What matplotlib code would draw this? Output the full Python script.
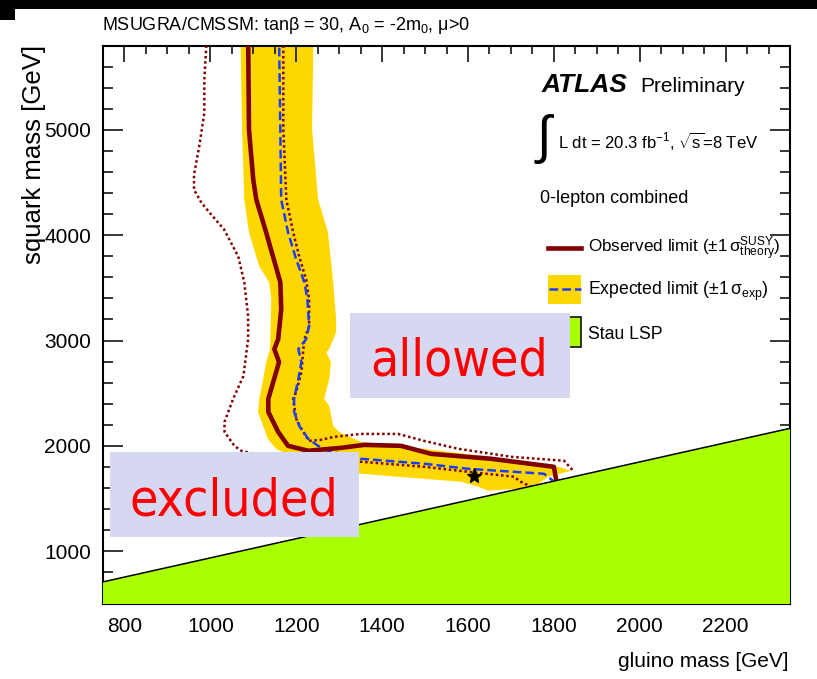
import matplotlib
matplotlib.use("Agg")
import matplotlib.pyplot as plt
from matplotlib import font_manager
from matplotlib.lines import Line2D
from matplotlib.patches import Rectangle, Polygon
from matplotlib.ticker import MultipleLocator

# ------------------------- Données des contours (GeV) --------------------------

# limite observée
obs_gluino = [1088, 1090, 1100, 1107, 1130, 1163, 1165, 1158, 1149, 1160, 1135, 1135,
              1158, 1181, 1228, 1305, 1358, 1444, 1514, 1654, 1800, 1805]
obs_squark = [5900, 5000, 4527, 4338, 4026, 3553, 3297, 3013, 2919, 2796, 2446, 2323,
              2133, 2001, 1954, 1982, 2010, 2001, 1925, 1878, 1802, 1689]

# limite attendue
exp_gluino = [1160, 1163, 1165, 1181, 1200, 1219, 1226, 1230, 1223, 1205, 1212, 1205,
              1195, 1195, 1207, 1228, 1251, 1274, 1351, 1498, 1600, 1777, 1798]
exp_squark = [5900, 5000, 4338, 4026, 3770, 3553, 3392, 3136, 3013, 2919, 2796, 2635,
              2446, 2323, 2190, 2067, 2001, 1954, 1878, 1831, 1783, 1736, 1670]

# bande +-1 sigma exp : bord haut/droit puis bord bas/gauche
band_hi_gluino = [1240, 1237, 1251, 1274, 1286, 1293, 1293, 1277, 1270, 1281, 1277, 1265,
                  1277, 1286, 1300, 1335, 1351, 1461, 1631, 1810, 1840]
band_hi_squark = [5900, 5000, 4338, 4026, 3553, 3202, 3079, 2919, 2890, 2796, 2635, 2446,
                  2379, 2190, 2133, 2067, 2039, 1991, 1906, 1802, 1764]
band_lo_gluino = [1070, 1074, 1079, 1090, 1114, 1137, 1142, 1139, 1130, 1123, 1114, 1111,
                  1123, 1134, 1153, 1211, 1281, 1351, 1584, 1624, 1647, 1717, 1764, 1787]
band_lo_squark = [5900, 5000, 4338, 4026, 3704, 3553, 3392, 2919, 2796, 2635, 2446, 2323,
                  2190, 2067, 1973, 1859, 1783, 1736, 1660, 1613, 1575, 1594, 1641, 1708]

# observée +-1 sigma théorie
up_gluino = [1170, 1170, 1177, 1193, 1207, 1223, 1230, 1230, 1219, 1216, 1212, 1200, 1193,
             1200, 1212, 1230, 1258, 1288, 1351, 1437, 1498, 1577, 1701, 1824, 1845]
up_squark = [5900, 5000, 4338, 4026, 3798, 3581, 3392, 3136, 3013, 2890, 2701, 2512, 2446,
             2256, 2162, 2048, 2058, 2086, 2114, 2114, 2048, 1973, 1897, 1859, 1764]
dn_gluino = [992, 986, 986, 974, 962, 962, 979, 1002, 1032, 1065, 1079, 1088, 1088, 1077,
             1053, 1033, 1033, 1056, 1072, 1150, 1250, 1351, 1498, 1600, 1707, 1723, 1747]
dn_squark = [5900, 5473, 5161, 4839, 4574, 4432, 4309, 4196, 4054, 3798, 3553, 3231, 3013,
             2663, 2446, 2228, 2133, 2001, 1954, 1880, 1860, 1850, 1802, 1755, 1708, 1660, 1613]

# frontière stau LSP
stau_gluino = [750, 2350]
stau_squark = [710, 2167]

# point de référence (étoile)
star_gluino = [1615]
star_squark = [1717]

# ------------------------- Style --------------------------

W, H = 817, 679
col_obs = "#800000"
col_band = "#ffd700"
col_exp = "#1a3cff"
col_stau = "#aaff00"
col_box = "#d6d7f1"

plt.rcParams["font.family"] = ["Liberation Sans", "DejaVu Sans"]
plt.rcParams["mathtext.fontset"] = "custom"
plt.rcParams["mathtext.rm"] = "Liberation Sans"
plt.rcParams["mathtext.it"] = "Liberation Sans:italic"
plt.rcParams["mathtext.bf"] = "Liberation Sans:bold"

noms = {f.name for f in font_manager.fontManager.ttflist}
if "Liberation Sans Narrow" in noms:
    leg_font, leg_size = ["Liberation Sans Narrow", "DejaVu Sans"], 15
else:
    leg_font, leg_size = ["Liberation Sans", "DejaVu Sans"], 12.3


def fx(px):
    return px / W


def fy(py):
    return 1 - py / H


fig = plt.figure(figsize=(W / 100, H / 100), dpi=100)
ax = fig.add_axes([fx(103), fy(604), (790 - 103) / W, (604 - 45.5) / H])

# ------------------------- Tracé --------------------------

band_x = band_hi_gluino + band_lo_gluino[::-1]
band_y = band_hi_squark + band_lo_squark[::-1]
ax.add_patch(Polygon(list(zip(band_x, band_y)), closed=True, facecolor=col_band,
                     edgecolor="none", zorder=1))

ax.plot(up_gluino, up_squark, color=col_obs, lw=1.8, dashes=(1, 1.1), zorder=3)
ax.plot(dn_gluino, dn_squark, color=col_obs, lw=1.8, dashes=(1, 1.1), zorder=3)
ax.plot(exp_gluino, exp_squark, color=col_exp, lw=1.8, dashes=(3.5, 1.6), zorder=4)
ax.plot(obs_gluino, obs_squark, color=col_obs, lw=3.3, zorder=5)

stau_poly = [(stau_gluino[0], stau_squark[0]), (stau_gluino[1], stau_squark[1]),
             (stau_gluino[1], 0), (stau_gluino[0], 0)]
ax.add_patch(Polygon(stau_poly, closed=True, facecolor=col_stau, edgecolor="none", zorder=6))
ax.plot(stau_gluino, stau_squark, color="black", lw=1.1, zorder=7)

ax.plot(star_gluino, star_squark, marker="*", color="black", markersize=11, ls="none", zorder=8)

ax.set_xlim(750, 2350)
ax.set_ylim(500, 5800)

ax.set_xticks(range(800, 2300, 200))
ax.set_yticks(range(1000, 6000, 1000))
ax.xaxis.set_minor_locator(MultipleLocator(50))
ax.yaxis.set_minor_locator(MultipleLocator(200))
ax.tick_params(which="both", direction="in", top=True, right=True, width=1.1,
               labelsize=15, colors="black")
ax.xaxis.set_tick_params(which="major", length=11.5, pad=9)
ax.xaxis.set_tick_params(which="minor", length=5.8)
ax.yaxis.set_tick_params(which="major", length=14.4, pad=8.5)
ax.yaxis.set_tick_params(which="minor", length=7.2)
for s in ax.spines.values():
    s.set_linewidth(1.5)

# ------------------------- Textes --------------------------

fig.text(fx(788), fy(667), "gluino mass [GeV]", fontsize=15, ha="right", va="baseline")
fig.text(fx(41), fy(45), "squark mass [GeV]", fontsize=18.5, rotation=90,
         rotation_mode="anchor", ha="right", va="baseline")
fig.text(fx(102), fy(30), r"MSUGRA/CMSSM: tanβ = 30, A$_0$ = -2m$_0$, μ>0",
         fontsize=13, ha="left", va="baseline")

# bandeau noir en haut
fig.add_artist(Rectangle((0, fy(9)), 1, 9 / H, facecolor="black", edgecolor="none"))
fig.add_artist(Rectangle((0, fy(20)), 15 / W, 11 / H, facecolor="black", edgecolor="none"))

# légende
fig.text(fx(542), fy(92), "ATLAS", fontsize=19, fontweight="bold", fontstyle="italic",
         ha="left", va="baseline")
fig.text(fx(640), fy(92), "Preliminary", fontsize=15, ha="left", va="baseline")
fig.text(fx(537), fy(139), "∫", fontsize=38, ha="left", va="center",
         family=["Liberation Sans", "DejaVu Sans"])
fig.text(fx(558), fy(148), r"L dt = 20.3 fb$^{-1}$, $\sqrt{\mathrm{s}}$=8 TeV",
         fontsize=leg_size - 0.3, family=leg_font, ha="left", va="baseline")
fig.text(fx(540), fy(203), "0-lepton combined", fontsize=leg_size + 0.7, family=leg_font,
         ha="left", va="baseline")

fig.add_artist(Line2D([fx(548), fx(581)], [fy(248), fy(248)], color=col_obs, lw=3.3, zorder=2))
fig.text(fx(588), fy(253), r"Observed limit (±1$\,$σ$^{\mathrm{SUSY}}_{\mathrm{theory}}$)",
         fontsize=leg_size, family=leg_font, ha="left", va="baseline")

fig.add_artist(Rectangle((fx(548), fy(304)), 33 / W, 29 / H, facecolor=col_band,
                         edgecolor="none", zorder=2))
fig.add_artist(Line2D([fx(549), fx(581)], [fy(289), fy(289)], color=col_exp, lw=1.8,
                      dashes=(3.5, 1.6), zorder=3))
fig.text(fx(588), fy(295), r"Expected limit (±1$\,$σ$_{\mathrm{exp}}$)",
         fontsize=leg_size + 0.4, family=leg_font, ha="left", va="baseline")

fig.add_artist(Rectangle((fx(548), fy(347)), 33 / W, 30 / H, facecolor=col_stau,
                         edgecolor="black", lw=1.1, zorder=2))
fig.text(fx(588), fy(339), "Stau LSP", fontsize=leg_size + 0.4, family=leg_font,
         ha="left", va="baseline")

# étiquettes excluded / allowed
fig.add_artist(Rectangle((fx(110), fy(537)), 249 / W, 85 / H, facecolor=col_box,
                         edgecolor="none", zorder=5))
fig.text(fx(130), fy(515), "excluded", fontsize=37, color="red", family="DejaVu Sans",
         fontstretch="condensed", ha="left", va="baseline", zorder=6)
fig.add_artist(Rectangle((fx(350), fy(398)), 220 / W, 85 / H, facecolor=col_box,
                         edgecolor="none", zorder=5))
fig.text(fx(370), fy(375), "allowed", fontsize=37, color="red", family="DejaVu Sans",
         fontstretch="condensed", ha="left", va="baseline", zorder=6)

fig.savefig("out.png", dpi=100)
